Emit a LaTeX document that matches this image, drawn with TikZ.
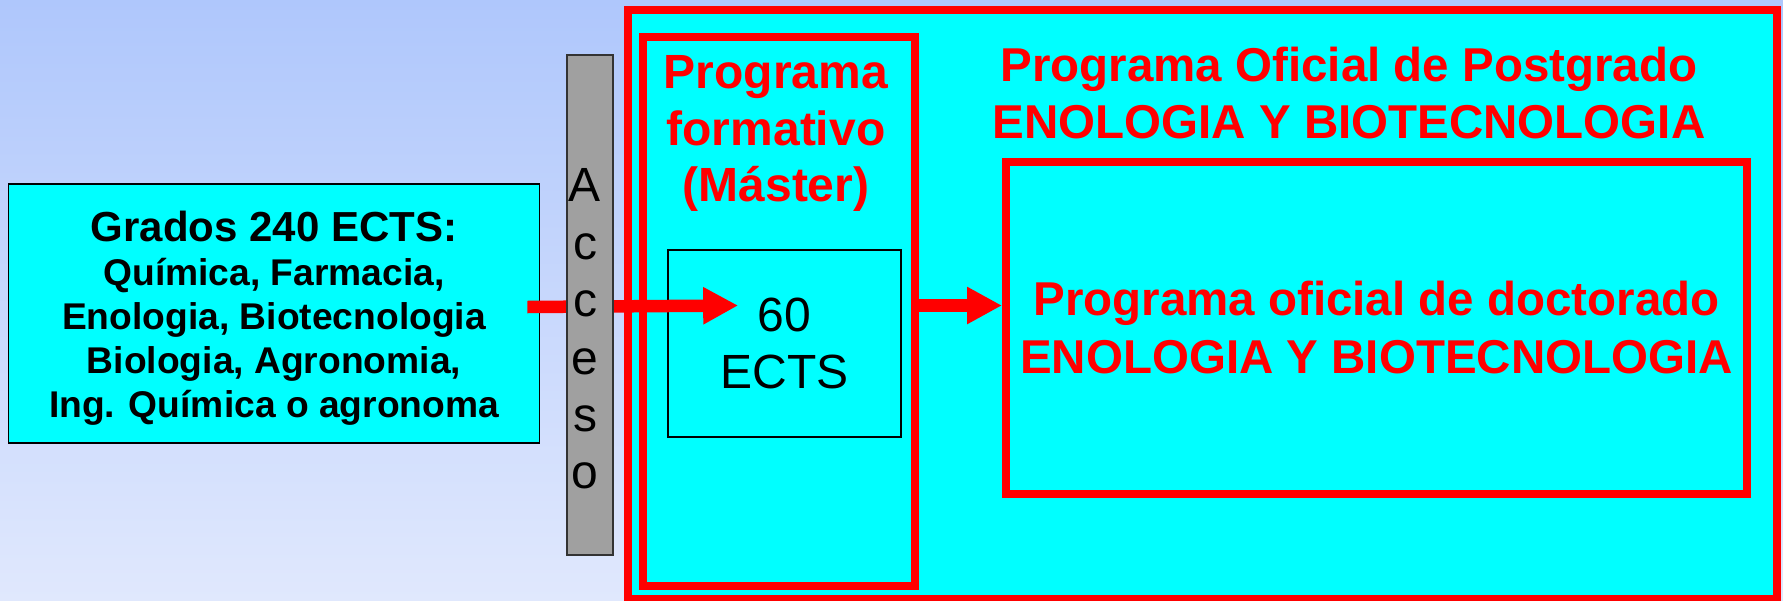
\documentclass[tikz,border=0pt]{standalone}
\usepackage{fontspec}
\setmainfont{Liberation Sans}
\usetikzlibrary{arrows.meta,calc}

\definecolor{fondoArriba}{RGB}{175,199,252}
\definecolor{fondoAbajo}{RGB}{224,232,253}
\definecolor{cian}{RGB}{0,255,255}
\definecolor{gris}{RGB}{160,160,160}

\tikzset{
  caja/.style={draw=black, line width=1.8pt, fill=cian, inner sep=0pt},
  marco/.style={draw=red, line width=8pt, fill=cian, inner sep=0pt},
  flecha/.style={draw=red, line width=12.5pt, -{Triangle[length=35pt,width=35pt]}},
  titulo/.style={text=red, align=center, inner sep=0pt, font=\bfseries\fontsize{47.5}{57}\selectfont},
}

\begin{document}
\begin{tikzpicture}[x=1pt,y=1pt,yscale=-1,xscale=1]
\useasboundingbox (0,0) rectangle (1783,600);

%Shape: Background
\shade[top color=fondoArriba, bottom color=fondoAbajo] (0,0) rectangle (1783,600);

%Shape: Rectangle [grados]
\node[caja, minimum width=531pt, minimum height=259pt, align=center, font=\bfseries\fontsize{37.2}{44}\selectfont] (grados) at (274,313.5) {{\fontsize{42}{45}\selectfont\rule{0pt}{40pt}Grados 240 ECTS:}\\Química, Farmacia,\\Enologia, Biotecnologia\\Biologia, Agronomia,\\Ing. Química o agronoma};

%Shape: Rectangle [postgrado]
\node[marco, minimum width=1149pt, minimum height=589pt] (postgrado) at (1202.5,304.5) {};
%Shape: Rectangle [formativo]
\node[marco, minimum width=272pt, minimum height=548.5pt] (formativo) at (779,311.25) {};
%Shape: Rectangle [ects]
\node[caja, line width=1.7pt, minimum width=233pt, minimum height=187pt, align=center, font=\fontsize{48}{57}\selectfont] (ects) at (784.5,343.5) {60\\ECTS};
%Shape: Rectangle [doctorado]
\node[marco, minimum width=741pt, minimum height=332pt, align=center, text=red, font=\bfseries\fontsize{47.5}{58}\selectfont] (doctorado) at (1376.5,328) {Programa oficial de doctorado\\ENOLOGIA Y BIOTECNOLOGIA};

%Straight Lines
\coordinate (salida) at ($(grados.east)+(-13,-6.5)$);
\coordinate (punta) at ($(ects.west)+(71,-38)$);
\draw[flecha] (salida) -- (punta);
\draw[flecha] (formativo.east |- punta) -- (doctorado.west |- punta);

%Shape: Rectangle [acceso]
\node[draw=black!80, line width=1.5pt, fill=gris, minimum width=46pt, minimum height=500pt, inner sep=0pt] (acceso) at (590,305) {};

% Text Node
\node[anchor=north, align=center, inner sep=0pt, font=\fontsize{48}{57.4}\selectfont] (accesoT) at (585,168.6) {A\\c\\c\\e\\s\\o};
% Text Node
\node[titulo, anchor=north, font=\bfseries\fontsize{48}{56.5}\selectfont] (formativoT) at (776,55.5) {Programa\\formativo\\(Máster)};
% Text Node
\node[titulo, anchor=north] (postgradoT) at (1349,47) {Programa Oficial de Postgrado\\ENOLOGIA Y BIOTECNOLOGIA};

\end{tikzpicture}
\end{document}
